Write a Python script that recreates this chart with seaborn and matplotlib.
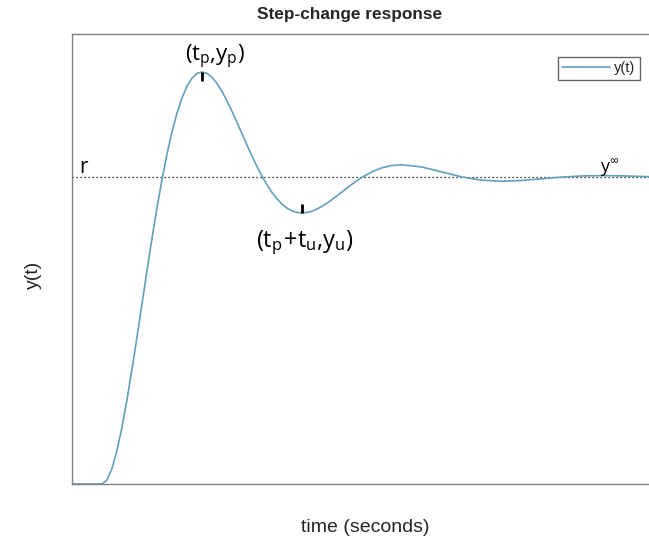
import matplotlib
matplotlib.use("Agg")
import matplotlib.pyplot as plt
import seaborn as sns
import pandas as pd

# Step response samples: time (s) and output y(t), setpoint r = 1
time_s = [0.0, 1.5, 1.75, 2.0, 2.25, 2.5, 2.75, 3.0, 3.25, 3.5, 3.75, 4.0, 4.25,
          4.5, 4.75, 5.0, 5.25, 5.5, 5.75, 6.0, 6.25, 6.5, 6.75, 7.0, 7.25,
          7.5, 7.75, 8.0, 8.25, 8.5, 8.75, 9.0, 9.25, 9.5, 9.75, 10.0, 10.25,
          10.5, 10.75, 11.0, 11.25, 11.5, 11.75, 12.0, 12.25, 12.5, 12.75,
          13.0, 13.25, 13.5, 13.75, 14.0, 14.25, 14.5, 15.0, 15.5, 16.0, 16.5,
          17.5, 18.5, 19.5, 20.5, 21.5, 22.5, 23.5, 24.5, 25.5, 26.5, 27.5,
          28.5, 29.0]
y_out = [0.0, 0.0, 0.0132, 0.0509, 0.1094, 0.1853, 0.2746, 0.3738, 0.4791, 0.5874,
         0.6954, 0.8003, 0.8998, 0.9918, 1.0747, 1.1472, 1.2084, 1.2580, 1.2959,
         1.3221, 1.3373, 1.3422, 1.3376, 1.3248, 1.3048, 1.2788, 1.2482, 1.2143,
         1.1783, 1.1412, 1.1042, 1.0683, 1.0343, 1.0028, 0.9745, 0.9497, 0.9287,
         0.9117, 0.8988, 0.8898, 0.8846, 0.8829, 0.8844, 0.8888, 0.8957, 0.9046,
         0.9150, 0.9267, 0.9390, 0.9517, 0.9644, 0.9766, 0.9883, 0.9990, 1.0172,
         1.0302, 1.0377, 1.0401, 1.0326, 1.0165, 1.0003, 0.9897, 0.9863, 0.9889,
         0.9944, 0.9999, 1.0035, 1.0047, 1.0038, 1.0019, 1.0009]

setpoint = 1.0
t_peak, y_peak = 6.5, 1.3422
t_under, y_under = 11.5, 0.8829

df = pd.DataFrame({"time": time_s, "y": y_out})

sns.set_style("white")
plt.rcParams["font.family"] = ["Liberation Sans", "DejaVu Sans"]
plt.rcParams["mathtext.fontset"] = "custom"
plt.rcParams["mathtext.rm"] = "Open Sans"
plt.rcParams["mathtext.it"] = "Open Sans"

fig = plt.figure(figsize=(6.49, 5.44), dpi=100)
ax = fig.add_axes([72 / 649, 60 / 544, 584 / 649, 450 / 544])

line_color = "#62a0bb"
sns.lineplot(data=df, x="time", y="y", ax=ax, color=line_color, lw=1.2,
             label="y(t)", sort=False)

ax.axhline(setpoint, color="black", lw=0.9, ls=(0, (1, 2.2)), zorder=1)

# small markers at the peak and the first undershoot
ax.plot([t_peak, t_peak], [y_peak, y_peak - 0.03], color="black", lw=2,
        solid_capstyle="butt")
ax.plot([t_under, t_under], [y_under, y_under + 0.03], color="black", lw=2,
        solid_capstyle="butt")

ax.set_xlim(0, 29.2)
ax.set_ylim(0, 1.466)
ax.set_xticks([])
ax.set_yticks([])
ax.set_xlabel("")
ax.set_ylabel("")
for side in ["left", "bottom", "top", "right"]:
    ax.spines[side].set_color("#808080")
    ax.spines[side].set_linewidth(1.0)

ann_font = dict(family="Open Sans", color="black")
ax.annotate(r"$\mathrm{(t_p{,}y_p)}$", (t_peak, y_peak), xytext=(9, 1),
            textcoords="offset points", ha="center", va="bottom",
            fontsize=16, **ann_font)
ax.annotate(r"$\mathrm{(t_p\!+\!t_u{,}y_u)}$", (t_under, y_under),
            xytext=(2, -11), textcoords="offset points", ha="center",
            va="top", fontsize=17, **ann_font)
ax.annotate("r", (0, setpoint), xytext=(5, -1), textcoords="offset points",
            ha="left", va="bottom", fontsize=15, **ann_font)
ax.annotate(r"$\mathrm{y}^{\infty}$", (26.9, setpoint), xytext=(0, -1),
            textcoords="offset points", ha="center", va="bottom",
            fontsize=13, **ann_font)

leg = ax.legend(loc="upper right", bbox_to_anchor=(568 / 584, 1 - 23 / 450),
                frameon=True, fancybox=False, fontsize=10.5, handlelength=3.3,
                handletextpad=0.3, borderpad=0.3, borderaxespad=0)
leg.get_frame().set_edgecolor("#404040")
leg.get_frame().set_linewidth(1.0)

fig.text(350 / 649, 1 - 15 / 544, "Step-change response", ha="center",
         va="center", fontsize=12.4, fontweight="bold")
fig.text(365 / 649, 1 - 527 / 544, "time (seconds)", ha="center",
         va="center", fontsize=14)
fig.text(33 / 649, 1 - 275 / 544, "y(t)", ha="center", va="center",
         fontsize=14, rotation=90)

fig.savefig("out.png", dpi=100)
